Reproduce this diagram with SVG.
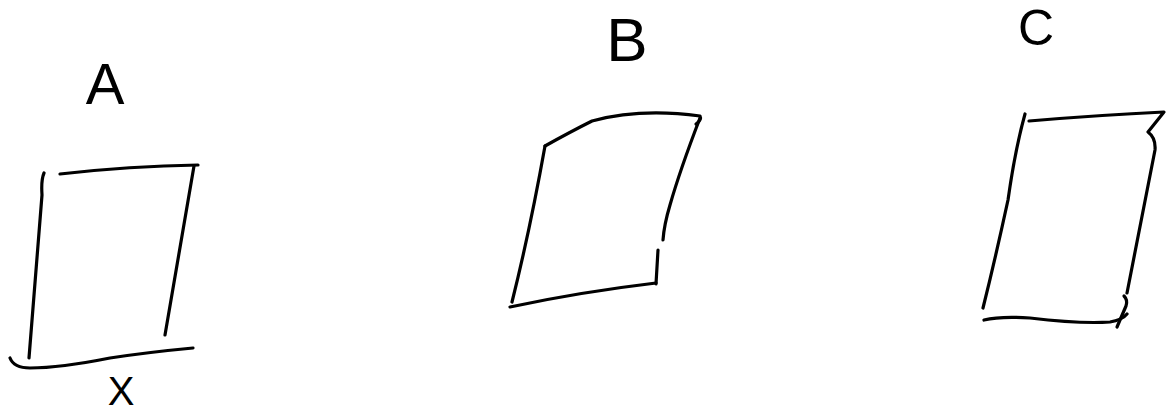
<svg xmlns="http://www.w3.org/2000/svg" width="1167" height="415" viewBox="0 0 1167 415">
<style>
.s{fill:none;stroke:#000;stroke-width:3.2;stroke-linecap:round;stroke-linejoin:round}
.t{font-family:"Liberation Sans",Arial,sans-serif;fill:#000;text-anchor:middle}
</style>
<rect width="1167" height="415" fill="#fff"/>
<g id="nodeA">
<path class="s" d="M44,173 Q41,180 42,195 L29,358"/>
<path class="s" d="M60,174 Q130,166 198,165"/>
<path class="s" d="M194,166 L165,335"/>
<path class="s" d="M10,358 Q14,368 30,368 Q60,368 110,358 Q150,352 193,348"/>
<text class="t" x="105" y="104" font-size="58">A</text>
<text class="t" x="121" y="405" font-size="40">X</text>
</g>
<g id="nodeB">
<path class="s" d="M545,146 Q570,132 592,121 Q640,108 700,116 Q702,120 696,124"/>
<path class="s" d="M700,118 Q680,170 670,205 Q664,225 663,240"/>
<path class="s" d="M658,250 L656,284"/>
<path class="s" d="M510,307 Q580,292 656,283"/>
<path class="s" d="M545,146 Q530,230 512,302"/>
<text class="t" x="627" y="61" font-size="62">B</text>
</g>
<g id="nodeC">
<path class="s" d="M1025,114 Q1015,150 1008,200 Q995,260 983,308"/>
<path class="s" d="M1029,121 Q1100,115 1164,112 L1148,132 Q1156,138 1155,150 L1127,293"/>
<path class="s" d="M1124,296 Q1128,300 1126,306 L1117,327"/>
<path class="s" d="M984,320 Q1000,316 1030,318 Q1080,324 1110,322 Q1122,320 1127,314"/>
<text class="t" x="1036" y="45" font-size="50">C</text>
</g>
<g id="connectors"></g>
</svg>
